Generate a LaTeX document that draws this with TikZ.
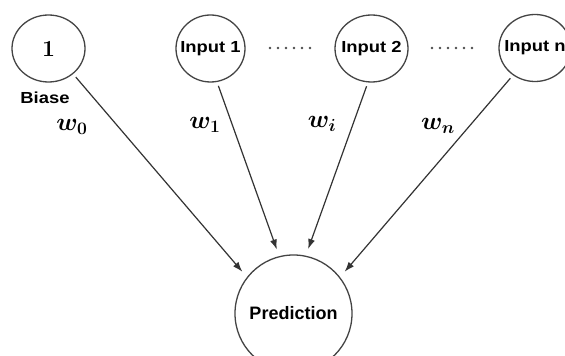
\documentclass[tikz,border=0pt]{standalone}
\usepackage{fix-cm}
\usepackage{fontspec}
\newfontfamily\labfont[FakeStretch=1.15]{Liberation Sans}
\newfontfamily\predfont{Liberation Sans}
\usetikzlibrary{shapes.geometric,arrows.meta}
\definecolor{edgegray}{HTML}{333333}
\definecolor{ringgray}{HTML}{444444}
\begin{document}
\begin{tikzpicture}[x=1pt,y=1pt,
  unit/.style={ellipse,draw=ringgray,line width=1.3pt,inner sep=0pt,minimum width=72pt,minimum height=67pt},
  inlabel/.style={font=\labfont\bfseries\fontsize{16}{18}\selectfont,text=black},
  wlabel/.style={font=\fontsize{25}{29}\selectfont\boldmath,text=black},
  arr/.style={draw=edgegray,line width=1.2pt,-{Latex[length=10pt,width=7pt]},shorten <=4pt,shorten >=7pt},
  dotrow/.style={draw=black!70,line width=2.8pt,line cap=round,dash pattern=on 0pt off 8pt}
]
\useasboundingbox (0,0) rectangle (565,356);
\clip (0,0) rectangle (565,356);
\fill[white] (0,0) rectangle (565,356);

\node[unit,minimum width=73pt] (bias) at (48.5,307.5) {\fontsize{23}{27}\selectfont\bfseries 1};
\node[unit,minimum width=69pt] (in1) at (210.5,307.5) {};
\node[inlabel] at (in1) {Input 1};
\node[unit,minimum width=73pt] (in2) at (371.5,307.5) {};
\node[inlabel] at (in2) {Input 2};
\node[unit] (inn) at (535,308) {};
\node[inlabel] at (inn) {Input n};
\node[circle,draw=ringgray,line width=1.3pt,minimum size=117pt,inner sep=0pt] (pred) at (293.5,42.5) {};
\node[font=\predfont\bfseries\fontsize{18}{20}\selectfont] at (pred) {Prediction};

\node[inlabel] (biaslab) at (45,258) {Biase};

\node[wlabel] (w0) at (72,229) {$w_0$};
\node[wlabel] (w1) at (205,231) {$w_1$};
\node[wlabel] (wi) at (322,232) {$w_i$};
\node[wlabel] (wn) at (438,230) {$w_n$};

\coordinate (d1a) at (270,308);
\coordinate (d1b) at (312,308);
\coordinate (d2a) at (432,308);
\coordinate (d2b) at (472,308);
\draw[dotrow] (d1a) -- (d1b);
\draw[dotrow] (d2a) -- (d2b);

\draw[arr] (bias.-46) -- (pred.142);
\draw[arr] (in1.-79) -- (pred.104);
\draw[arr] (in2.-96) -- (pred.78);
\draw[arr] (inn.-129) -- (pred.38);
\end{tikzpicture}
\end{document}
